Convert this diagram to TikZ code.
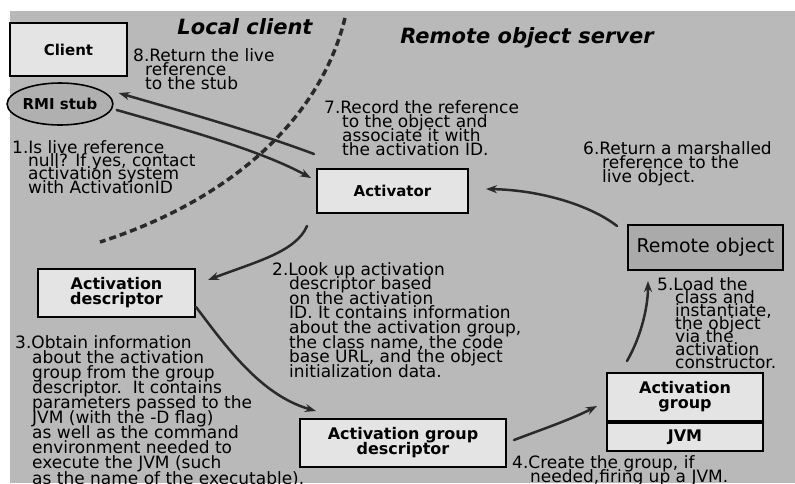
\documentclass[tikz,border=0pt]{standalone}
\usepackage{fontspec}
\setmainfont{DejaVu Sans}
\usetikzlibrary{arrows.meta,shapes.geometric}

\definecolor{panel}{HTML}{B9B9B9}
\definecolor{boxfill}{HTML}{E4E4E4}
\definecolor{objfill}{HTML}{AAAAAA}
\definecolor{stubfill}{HTML}{B0B0B0}
\definecolor{ink}{HTML}{2A2A2A}

% note text: 17pt type on a tight line pitch, lines allowed to touch
\newcommand{\notesize}[1]{\fontsize{17}{#1}\selectfont\lineskiplimit=-50pt\relax}
\newcommand{\boxsize}{\bfseries\fontsize{16}{15}\selectfont\lineskiplimit=-50pt\relax}
\newcommand{\labelsize}{\bfseries\fontsize{15}{15}\selectfont}

\begin{document}
\begin{tikzpicture}[x=1pt,y=-1pt,
  box/.style={draw=black,line width=2pt,fill=boxfill,inner sep=0pt,align=center,font=\boxsize},
  note/.style={anchor=north west,inner sep=0pt,align=left,font=\notesize{14}},
  flow/.style={draw=ink,line width=2.5pt,line cap=round,-{Stealth[length=11pt,width=8pt]}},
  border/.style={draw=ink,line width=3.5pt,dash pattern=on 7pt off 4pt},
  heading/.style={anchor=base,inner sep=0pt,font=\bfseries\itshape\fontsize{21}{24}\selectfont}]

\useasboundingbox (0,0) rectangle (795,483);
\fill[white] (0,0) rectangle (795,483);
\fill[panel] (10,11) rectangle (795,483);

% headings of the two sides
\node[heading] (hlocal) at (245,34) {Local client};
\node[heading] (hremote) at (527,43) {Remote object server};

% client side
\node[box,minimum width=117pt,minimum height=53pt,font=\labelsize] (client) at (68.5,49.5) {Client};
\node[ellipse,draw=black,line width=1.6pt,fill=stubfill,minimum width=90pt,minimum height=42pt,inner sep=0pt,
      font=\labelsize] (stub) at (60,104) {RMI stub};

% server side
\node[box,minimum width=151pt,minimum height=44pt,font=\labelsize] (act) at (392.5,191) {Activator};
\node[box,minimum width=157pt,minimum height=48pt] (ad) at (116.5,293) {Activation\\descriptor};
\node[box,minimum width=206pt,minimum height=48pt] (agd) at (403,443) {Activation group\\descriptor};
\node[box,minimum width=156pt,minimum height=48pt] (grp) at (685,397) {Activation\\group};
\node[box,minimum width=156pt,minimum height=28pt] (jvm) at (685,437) {JVM};
\node[draw=black,line width=2pt,fill=objfill,inner sep=0pt,minimum width=155pt,minimum height=45pt,
      font=\fontsize{19}{20}\selectfont] (ro) at (705.5,247.5) {Remote object};

% boundary between client and server
\coordinate (sepTop) at (345,18);
\coordinate (sepEnd) at (100,242);
\draw[border] (sepTop) .. controls (320,120) and (230,200) .. (sepEnd);

% numbered steps
\node[note] (n8) at (133,48) {8.Return the live\\\hspace*{12pt}reference\\\hspace*{12pt}to the stub};
\node[note] (n7) at (324,100) {7.Record the reference\\\hspace*{18pt}to the object and\\\hspace*{18pt}associate it with\\\hspace*{18pt}the activation ID.};
\node[note,font=\notesize{13.4}] (n1) at (12,140) {1.Is live reference\\\hspace*{16pt}null? If yes, contact\\\hspace*{16pt}activation system\\\hspace*{16pt}with ActivationID};
\node[note] (n6) at (583,141) {6.Return a marshalled\\\hspace*{19pt}reference to the\\\hspace*{19pt}live object.};
\node[note,font=\notesize{14.6}] (n2) at (272,262) {2.Look up activation\\\hspace*{17pt}descriptor based\\\hspace*{17pt}on the activation\\\hspace*{17pt}ID. It contains information\\\hspace*{17pt}about the activation group,\\\hspace*{17pt}the class name, the code\\\hspace*{17pt}base URL, and the object\\\hspace*{17pt}initialization data.};
\node[note,font=\notesize{15.1}] (n3) at (15,335) {3.Obtain information\\\hspace*{17pt}about the activation\\\hspace*{17pt}group from the group\\\hspace*{17pt}descriptor.\ \ It contains\\\hspace*{17pt}parameters passed to the\\\hspace*{17pt}JVM (with the -D flag)\\\hspace*{17pt}as well as the command\\\hspace*{17pt}environment needed to\\\hspace*{17pt}execute the JVM (such\\\hspace*{17pt}as the name of the executable).};
\node[note] (n4) at (512,455) {4.Create the group, if\\\hspace*{18pt}needed,firing up a JVM.};
\node[note,font=\notesize{13}] (n5) at (657,277) {5.Load the\\\hspace*{18pt}class and\\\hspace*{18pt}instantiate,\\\hspace*{18pt}the object\\\hspace*{18pt}via the\\\hspace*{18pt}activation\\\hspace*{18pt}constructor.};

% flow of the activation
\draw[flow] ([shift={(3,6)}]stub.east) .. controls (180,128) and (260,150) .. ([shift={(-5,-13)}]act.west);
\draw[flow] ([shift={(-9,12)}]act.south west) .. controls (296,252) and (255,262) .. ([shift={(12,-13)}]ad.east);
\draw[flow] ([shift={(0,14)}]ad.east) .. controls (225,345) and (260,395) .. ([shift={(17,-7)}]agd.north west);
\draw[flow] ([shift={(7,-3)}]agd.east) .. controls (540,430) and (570,420) .. ([shift={(-9,9)}]grp.west);
\draw[flow] ([shift={(21,-11)}]grp.north west) .. controls (642,335) and (648,305) .. ([shift={(21,10)}]ro.south west);
\draw[flow] ([shift={(-10,2)}]ro.north west) .. controls (590,205) and (540,190) .. ([shift={(17,-2)}]act.east);
\draw[flow] ([shift={(-2,-14)}]act.north west) .. controls (250,130) and (170,108) .. ([shift={(5,-11)}]stub.east);

\end{tikzpicture}
\end{document}
